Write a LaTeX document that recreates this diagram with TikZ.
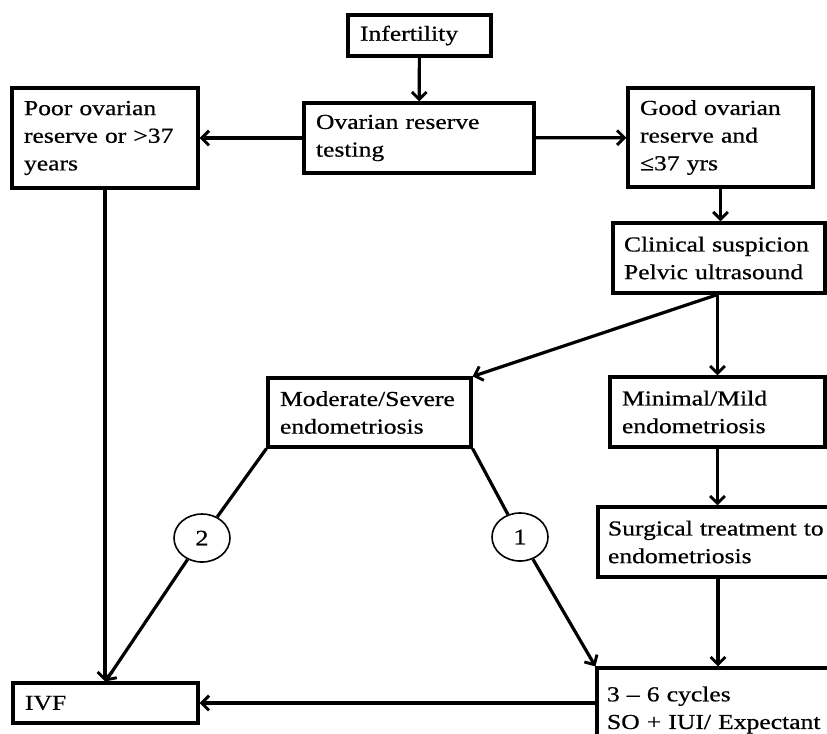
\documentclass[tikz,border=0pt]{standalone}
\usepackage{fontspec}
\setmainfont{Liberation Serif}[FakeStretch=1.2,FakeBold=0.6]
\usetikzlibrary{arrows.meta,shapes.geometric}
\begin{document}
\begin{tikzpicture}[x=0.75pt,y=-0.75pt,
  box/.style={draw=black, line width=2.4pt, rectangle, align=left, inner xsep=9pt, inner ysep=0pt,
    font=\fontsize{16}{20.75}\selectfont},
  num/.style={draw=black, line width=1.2pt, ellipse, fill=white, minimum width=42pt, minimum height=36pt,
    inner sep=0pt, font=\fontsize{16.5}{20}\selectfont},
  arr/.style={line width=2.4pt, -{Straight Barb[length=5.5pt,width=11pt,line width=2.2pt]}},
  ln/.style={line width=2.4pt}]
\useasboundingbox (0,0) rectangle (827,733);
\clip (0,0) rectangle (827,733);
\node[box, minimum width=107.25pt, minimum height=30.75pt, text width=89.25pt] (inf) at (419.5,35.5) {Infertility};
\node[box, minimum width=172.5pt, minimum height=52.5pt, text width=154.5pt] (ort) at (419,138) {\mbox{Ovarian reserve}\\testing};
\node[box, minimum width=139.5pt, minimum height=75pt, text width=121.5pt] (poor) at (105,138) {\mbox{Poor ovarian}\\\mbox{reserve or >37}\\years};
\node[box, minimum width=138.75pt, minimum height=74.25pt, text width=120.75pt] (good) at (720.5,137.5) {\mbox{Good ovarian}\\\mbox{reserve and}\\\mbox{≤37 yrs}};
\node[box, minimum width=159pt, minimum height=52.5pt, text width=142.5pt, inner xsep=8.25pt] (clin) at (719,258) {\mbox{Clinical suspicion}\\\mbox{Pelvic ultrasound}};
\node[box, minimum width=152.25pt, minimum height=51.75pt, text width=134.25pt] (mod) at (369.5,412.5) {\mbox{Moderate/Severe}\\endometriosis};
\node[box, minimum width=161.25pt, minimum height=52.5pt, text width=143.25pt] (mini) at (717.5,412) {\mbox{Minimal/Mild}\\endometriosis};
\node[box, minimum width=180pt, minimum height=52.5pt, text width=165pt, inner xsep=7.5pt] (surg) at (718,542) {\mbox{Surgical treatment to}\\endometriosis};
\node[box, minimum width=181.5pt, minimum height=63pt, text width=166.5pt, inner xsep=7.5pt] (cyc) at (718,710) {\mbox{3 – 6 cycles}\\\mbox{SO + IUI/ Expectant}};
\node[box, minimum width=138.75pt, minimum height=30pt, text width=120.75pt] (ivf) at (105.5,703) {IVF};
\node[num] (c2) at (202,538) {2};
\node[num] (c1) at (520,537) {1};
\draw[arr] (inf) -- (ort);
\draw[arr] (ort) -- (poor);
\draw[arr] (ort) -- (good);
\draw[arr] (good) -- (good |- clin.north);
\draw[arr] (clin.south -| mini.north) -- (mini.north);
\draw[arr] (clin.south -| mini.north) -- (mod.north east);
\draw[arr] (mini) -- (mini |- surg.north);
\draw[arr] (surg) -- (surg |- cyc.north);
\draw[ln] (mod.south east) -- (c1);
\draw[arr] (c1) -- (cyc.north west);
\draw[ln] (mod.south west) -- (c2);
\draw[arr] (c2) -- (ivf.north);
\draw[arr] (poor) -- (poor |- ivf.north);
\draw[arr] (cyc.west |- ivf.east) -- (ivf.east);
\end{tikzpicture}
\end{document}
